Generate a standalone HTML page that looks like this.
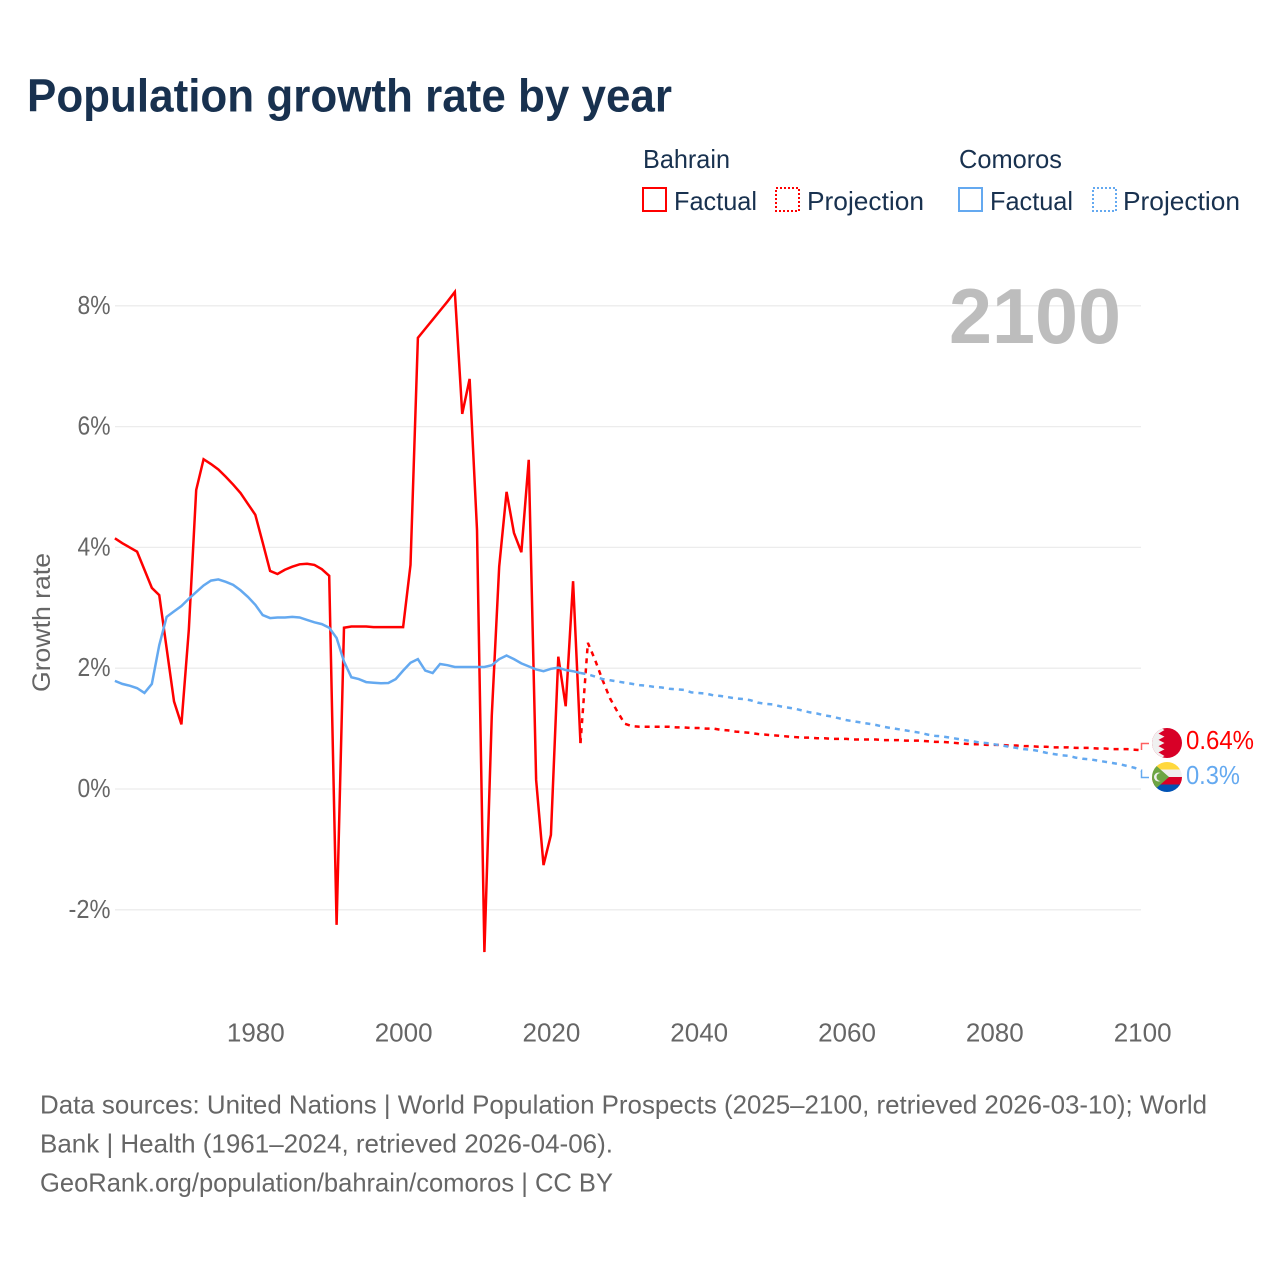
<!DOCTYPE html>
<html>
<head>
<meta charset="utf-8">
<title>Population growth rate by year</title>
<style>
html,body{margin:0;padding:0;background:#fff;}
svg{display:block;font-family:"Liberation Sans",sans-serif;}
</style>
</head>
<body>
<svg id="chart" width="1280" height="1280" viewBox="0 0 1280 1280">
<defs>
<clipPath id="clip-bh"><circle cx="1167" cy="743" r="15"/></clipPath>
<clipPath id="clip-km"><circle cx="1167" cy="777" r="15"/></clipPath>
</defs>
<text x="27" y="111.5" font-size="46" font-weight="700" fill="#18314f" textLength="645" lengthAdjust="spacingAndGlyphs">Population growth rate by year</text>

<g font-size="26" fill="#18314f">
<text x="643" y="168" textLength="87" lengthAdjust="spacingAndGlyphs">Bahrain</text>
<text x="959" y="168" textLength="103" lengthAdjust="spacingAndGlyphs">Comoros</text>
<rect x="643" y="188" width="23" height="23" fill="none" stroke="#ff0000" stroke-width="2"/>
<text x="674" y="210" textLength="83" lengthAdjust="spacingAndGlyphs">Factual</text>
<rect x="776" y="188" width="23" height="23" fill="none" stroke="#ff0000" stroke-width="2" stroke-dasharray="2 2"/>
<text x="807" y="210" textLength="117" lengthAdjust="spacingAndGlyphs">Projection</text>
<rect x="959" y="188" width="23" height="23" fill="none" stroke="#64a9f0" stroke-width="2"/>
<text x="990" y="210" textLength="83" lengthAdjust="spacingAndGlyphs">Factual</text>
<rect x="1093" y="188" width="23" height="23" fill="none" stroke="#64a9f0" stroke-width="2" stroke-dasharray="2 2"/>
<text x="1123" y="210" textLength="117" lengthAdjust="spacingAndGlyphs">Projection</text>
</g>

<g id="grid"></g>
<g id="yticks"></g>
<g id="xticks"></g>

<text x="1121" y="343" text-anchor="end" font-size="78" font-weight="700" fill="#bdbdbd" textLength="172" lengthAdjust="spacingAndGlyphs">2100</text>
<text transform="translate(50,622.5) rotate(-90)" text-anchor="middle" font-size="25" fill="#666666" textLength="139" lengthAdjust="spacingAndGlyphs">Growth rate</text>

<g id="series"></g>

<path d="M1141.5 750V743.5H1149" fill="none" stroke="#ff6060" stroke-width="1.5"/>
<path d="M1141.5 771V777.5H1149" fill="none" stroke="#64a9f0" stroke-width="1.5"/>

<g clip-path="url(#clip-bh)">
<rect x="1152" y="728" width="30" height="30" fill="#d80027"/>
<path d="M1152 728H1161L1164.5 730 1158.5 733.6 1164.5 736.6 1158.5 739.9 1164.5 743 1158.5 746.1 1164.5 749.4 1158.5 752.4 1164.5 756 1161 758H1152Z" fill="#f0f0f0"/>
</g>
<g clip-path="url(#clip-km)">
<rect x="1152" y="762" width="30" height="8" fill="#ffd83d"/>
<rect x="1152" y="769.5" width="30" height="8" fill="#f0f0f0"/>
<rect x="1152" y="777" width="30" height="8" fill="#d80027"/>
<rect x="1152" y="784.5" width="30" height="8" fill="#0052b4"/>
<path d="M1152 762L1169 777 1152 792Z" fill="#6da544"/>
<circle cx="1158.5" cy="777" r="4.5" fill="#f0f0f0"/>
<circle cx="1160.5" cy="777" r="4" fill="#6da544"/>
</g>

<text x="1186" y="749" font-size="26" fill="#ff0000" textLength="68" lengthAdjust="spacingAndGlyphs">0.64%</text>
<text x="1186" y="784" font-size="26" fill="#64a9f0" textLength="54" lengthAdjust="spacingAndGlyphs">0.3%</text>

<g font-size="26" fill="#666666">
<text x="40" y="1113.5" textLength="1167" lengthAdjust="spacingAndGlyphs">Data sources: United Nations | World Population Prospects (2025–2100, retrieved 2026-03-10); World</text>
<text x="40" y="1152.5" textLength="573" lengthAdjust="spacingAndGlyphs">Bank | Health (1961–2024, retrieved 2026-04-06).</text>
<text x="40" y="1191.5" textLength="573" lengthAdjust="spacingAndGlyphs">GeoRank.org/population/bahrain/comoros | CC BY</text>
</g>
</svg>
<script>
const factualStartYear = 1961;
const projectionStartYear = 2024;
const yTickValues = [-2, 0, 2, 4, 6, 8];
const xTickValues = [1980, 2000, 2020, 2040, 2060, 2080, 2100];
const bahrainFactual = [4.15,4.07,4.0,3.93,3.63,3.33,3.21,2.33,1.45,1.07,2.63,4.95,5.46,5.38,5.29,5.17,5.04,4.9,4.72,4.54,4.08,3.61,3.56,3.63,3.68,3.72,3.73,3.71,3.64,3.53,-2.25,2.67,2.69,2.69,2.69,2.68,2.68,2.68,2.68,2.68,3.71,7.47,7.62,7.77,7.92,8.07,8.23,6.21,6.79,4.29,-2.7,1.22,3.68,4.92,4.24,3.92,5.45,0.15,-1.26,-0.76,2.19,1.37,3.44,0.76];
const comorosFactual = [1.79,1.74,1.71,1.67,1.59,1.74,2.38,2.85,2.94,3.03,3.15,3.26,3.37,3.45,3.47,3.43,3.38,3.29,3.18,3.05,2.88,2.83,2.84,2.84,2.85,2.84,2.8,2.76,2.73,2.67,2.5,2.11,1.85,1.82,1.77,1.76,1.75,1.755,1.82,1.96,2.09,2.15,1.96,1.92,2.07,2.05,2.02,2.02,2.02,2.02,2.02,2.05,2.15,2.21,2.15,2.08,2.03,1.98,1.95,1.99,2.01,1.97,1.95,1.92];
const bahrainProjection = [0.76,2.42,2.13,1.8,1.5,1.28,1.08,1.04,1.03,1.03,1.03,1.03,1.03,1.02,1.02,1.01,1.01,1.0,1.0,.98,.97,.95,.94,.93,.91,.9,.89,.88,.87,.86,.85,.85,.84,.84,.83,.83,.83,.82,.82,.82,.82,.81,.81,.81,.8,.8,.8,.79,.78,.78,.77,.76,.75,.74,.74,.73,.73,.73,.72,.72,.71,.71,.7,.7,.69,.69,.69,.68,.68,.68,.67,.67,.66,.66,.66,.65,.64];
const comorosProjection = [1.92,1.9,1.86,1.82,1.8,1.78,1.76,1.74,1.72,1.71,1.69,1.68,1.66,1.65,1.64,1.6,1.59,1.58,1.55,1.54,1.52,1.5,1.49,1.47,1.43,1.41,1.4,1.37,1.35,1.33,1.3,1.27,1.25,1.22,1.2,1.17,1.14,1.12,1.1,1.08,1.06,1.03,1.01,.99,.97,.95,.93,.9,.88,.87,.85,.83,.81,.79,.77,.76,.74,.72,.7,.68,.66,.65,.63,.6,.58,.56,.55,.52,.5,.49,.47,.45,.43,.41,.38,.35,.3];

const NS = 'http://www.w3.org/2000/svg';
function xScale(year) { return 114.9 + (year - 1961) * 7.39; }
function yScale(v) { return 789 - v * 60.4; }
function pathFrom(values, startYear) {
  return values.map(function (v, i) {
    return (i ? 'L' : 'M') + xScale(startYear + i).toFixed(2) + ' ' + yScale(v).toFixed(2);
  }).join('');
}
const grid = document.getElementById('grid');
const yticks = document.getElementById('yticks');
const xticks = document.getElementById('xticks');
const series = document.getElementById('series');

yTickValues.forEach(function (v) {
  const line = document.createElementNS(NS, 'line');
  
  
  line.setAttribute('x1', 115);
  line.setAttribute('x2', 1141);
  line.setAttribute('y1', yScale(v));
  line.setAttribute('y2', yScale(v));
  line.setAttribute('stroke', '#ececec');
  line.setAttribute('stroke-width', '1.3');
  grid.appendChild(line);

  const t = document.createElementNS(NS, 'text');
  
  
  t.setAttribute('x', 110.5);
  t.setAttribute('y', yScale(v) + 8);
  t.setAttribute('text-anchor', 'end');
  t.setAttribute('font-size', '26');
  t.setAttribute('fill', '#666666');
  t.setAttribute('textLength', v < 0 ? 42 : 33);
  t.setAttribute('lengthAdjust', 'spacingAndGlyphs');
  t.textContent = v + '%';
  yticks.appendChild(t);
});

xTickValues.forEach(function (year) {
  const t = document.createElementNS(NS, 'text');
  
  
  t.setAttribute('x', xScale(year) + 0.5);
  t.setAttribute('y', 1041.5);
  t.setAttribute('text-anchor', 'middle');
  t.setAttribute('font-size', '26');
  t.setAttribute('fill', '#666666');
  t.textContent = year;
  xticks.appendChild(t);
});

function addLine(values, startYear, color, dashed, name) {
  const p = document.createElementNS(NS, 'path');
  
  
  p.setAttribute('d', pathFrom(values, startYear));
  p.setAttribute('fill', 'none');
  p.setAttribute('stroke', color);
  p.setAttribute('stroke-width', '2.5');
  p.setAttribute('stroke-linejoin', 'miter');
  if (dashed) p.setAttribute('stroke-dasharray', '5 5');
  series.appendChild(p);
}
addLine(bahrainProjection, projectionStartYear, '#ff0000', true, 'bahrain-projection-line');
addLine(bahrainFactual, factualStartYear, '#ff0000', false, 'bahrain-factual-line');
addLine(comorosProjection, projectionStartYear, '#64a9f0', true, 'comoros-projection-line');
addLine(comorosFactual, factualStartYear, '#64a9f0', false, 'comoros-factual-line');
</script>
</body>
</html>
